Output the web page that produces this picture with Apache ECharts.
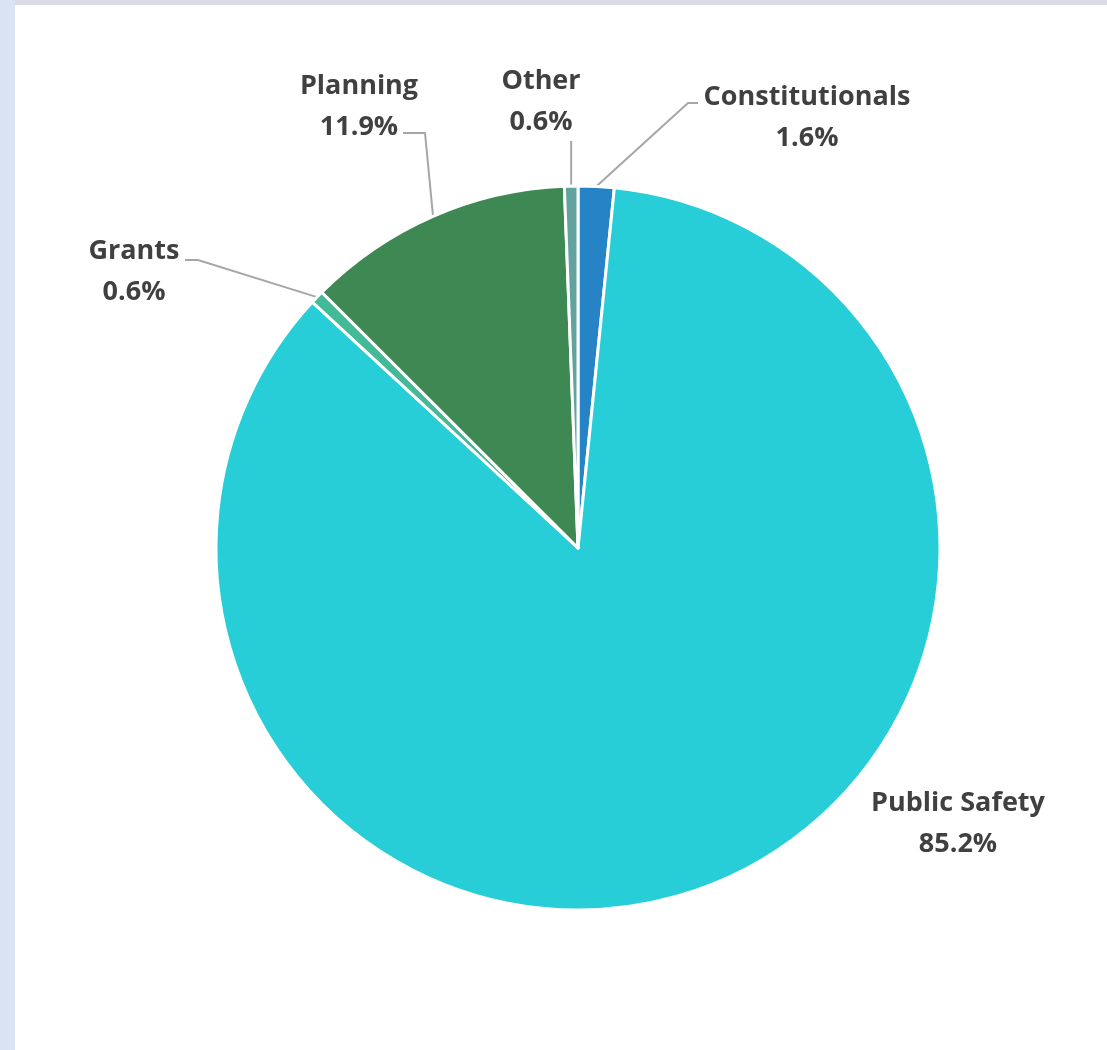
<!DOCTYPE html>
<html>
<head>
<meta charset="utf-8">
<script src="https://cdn.jsdelivr.net/npm/echarts@6/dist/echarts.min.js"></script>
<style>
  html, body { margin: 0; padding: 0; background: #dae3f3; }
  #frame { position: absolute; left: 15px; top: 0; width: 1092px; height: 1050px; background: #ffffff; border-top: 5px solid #d9dde3; box-sizing: border-box; }
  #chart { width: 100%; height: 100%; }
</style>
</head>
<body>
<div id="frame"><div id="chart"></div></div>
<script>
// slices, clockwise from 12 o'clock
var categories = ['Constitutionals', 'Public Safety', 'Grants', 'Planning', 'Other'];
var shares = [1.6, 85.2, 0.6, 11.9, 0.6];
var sliceColors = ['#2683C6', '#27CED7', '#42BA97', '#3E8853', '#62A39F'];

// label centres (chart coords), one per slice
var labelSpots = [
    [792, 113],
    [943, 819],
    [119, 267],
    [344, 102],
    [526, 97]
];
// leader line elbows: [elbow point, end near label]; null = none
var leaderBends = [
    [[673, 98], [683, 98]],
    null,
    [[183, 255], [170, 255]],
    [[410, 128], [388, 128]],
    'vertical'
];

var chart = echarts.init(document.getElementById('chart'));

var data = [];
for (var i = 0; i < categories.length; i++) {
    data.push({
        name: categories[i],
        value: shares[i],
        itemStyle: { color: sliceColors[i] },
        labelLine: { show: i !== 1 }
    });
}

chart.setOption({
    animation: false,
    series: [{
        type: 'pie',
        center: [563, 543],
        radius: 362,
        startAngle: 90,
        clockwise: true,
        data: data,
        itemStyle: { borderColor: '#ffffff', borderWidth: 3 },
        label: {
            formatter: '{b}\n{c}%',
            fontFamily: 'Open Sans',
            fontWeight: 'bold',
            fontSize: 27,
            lineHeight: 41,
            color: '#404040',
            align: 'center'
        },
        labelLine: {
            length: 20,
            length2: 15,
            lineStyle: { color: '#a6a6a6', width: 2 }
        },
        labelLayout: function (params) {
            var idx = params.dataIndex;
            var p = labelSpots[idx];
            var out = { x: p[0], y: p[1], align: 'center', verticalAlign: 'middle' };
            var pts = params.labelLinePoints;
            var bend = leaderBends[idx];
            if (pts && bend) {
                var edge = pts[0];
                if (bend === 'vertical') {
                    out.labelLinePoints = [edge, [edge[0], edge[1] - 20], [edge[0], 136]];
                } else {
                    out.labelLinePoints = [edge, bend[0], bend[1]];
                }
            }
            return out;
        }
    }]
});
</script>
</body>
</html>
